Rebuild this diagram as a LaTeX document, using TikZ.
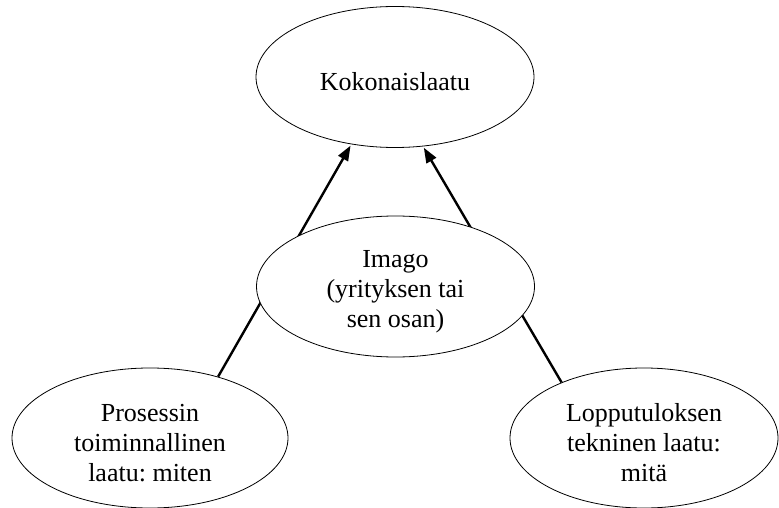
\documentclass[tikz,border=0pt]{standalone}
\usepackage{fontspec}
\setmainfont{Liberation Serif}
\frenchspacing
\usetikzlibrary{shapes.geometric,arrows.meta,backgrounds}
\begin{document}
\begin{tikzpicture}[x=1pt,y=-1pt,
  oval/.style={ellipse,draw,line width=0.8pt,fill=white,inner sep=0pt,minimum width=278pt,minimum height=141pt},
  lbl/.style={align=center,font=\fontsize{26}{30}\selectfont,inner sep=0pt},
  conn/.style={line width=2.4pt},
  arr/.style={conn,-{Triangle[length=15pt,width=11pt]},shorten >=1.5pt}]
\useasboundingbox (0,0) rectangle (779,508);
\node[oval] (top) at (395,77) {};
\node[oval] (mid) at (395.5,286.5) {};
\node[oval,minimum width=276pt,minimum height=140pt] (bl) at (150,438) {};
\node[oval,minimum width=268pt,minimum height=140pt] (br) at (644,438) {};
\node[lbl] (toptxt) at ([yshift=-5pt]top.center) {Kokonaislaatu};
\node[lbl] (midtxt) at ([yshift=-5pt]mid.center) {Imago\\(yrityksen tai\\sen osan)};
\node[lbl] (bltxt) at ([yshift=-5pt]bl.center) {Prosessin\\toiminnallinen\\laatu: miten};
\node[lbl] (brtxt) at ([yshift=-5pt]br.center) {Lopputuloksen\\tekninen laatu:\\mitä};
\begin{scope}[on background layer]
\draw[arr] (bl.42.3) -- (top.237.6);
\draw[arr] (br.146.9) -- (top.292.2);
\end{scope}
\end{tikzpicture}
\end{document}
